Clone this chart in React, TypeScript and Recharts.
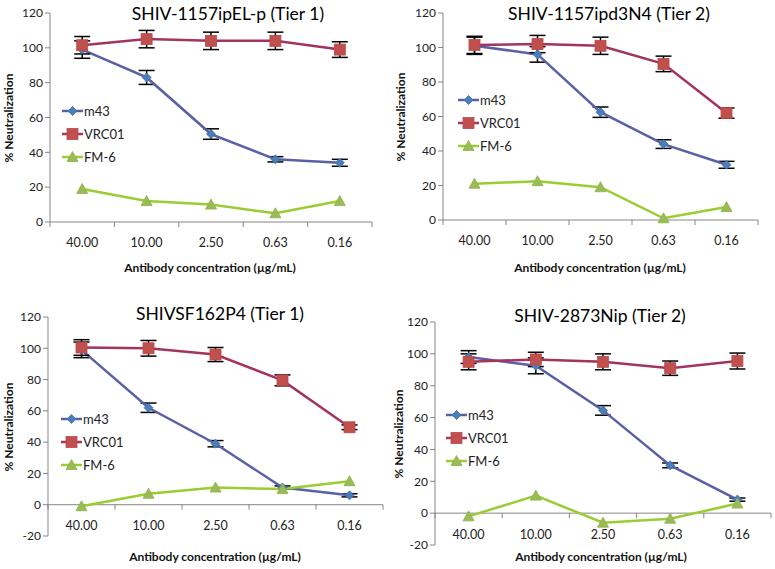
import React from "react"
import { LineChart, Line, XAxis, YAxis, ErrorBar, ReferenceLine } from "recharts"

const concentrations = ["40.00", "10.00", "2.50", "0.63", "0.16"]
const seriesNames = ["m43", "VRC01", "FM-6"]
const titles = ["SHIV-1157ipEL-p (Tier 1)", "SHIV-1157ipd3N4 (Tier 2)", "SHIVSF162P4 (Tier 1)", "SHIV-2873Nip (Tier 2)"]
const yTicksPos = [0, 20, 40, 60, 80, 100, 120]
const yTicksNeg = [-20, 0, 20, 40, 60, 80, 100, 120]

// SHIV-1157ipEL-p (Tier 1)
const elpM43 = [99, 83, 50.5, 36, 34]
const elpM43Err = [5, 4, 3, 1.5, 2]
const elpVrc01 = [101.5, 105, 104, 104, 99]
const elpVrc01Err = [5, 5, 5, 5, 4.5]
const elpFm6 = [19, 12, 10, 5, 12]

// SHIV-1157ipd3N4 (Tier 2)
const d3M43 = [101, 96, 62.5, 44, 32]
const d3M43Err = [5, 4.5, 3, 2.5, 2]
const d3Vrc01 = [101.5, 102, 101, 90.5, 62]
const d3Vrc01Err = [5, 5, 5, 4.5, 3]
const d3Fm6 = [21, 22.5, 19, 1, 7.5]

// SHIVSF162P4 (Tier 1)
const sfM43 = [99, 62, 39, 11, 6]
const sfM43Err = [5, 3, 2, 1, 1]
const sfVrc01 = [100.5, 100, 96, 79.5, 49.5]
const sfVrc01Err = [5, 5, 4.5, 3.5, 1.5]
const sfFm6 = [-1, 7, 11, 10, 15]

// SHIV-2873Nip (Tier 2)
const nipM43 = [98, 92.5, 64.5, 30, 8.5]
const nipM43Err = [4, 5, 3, 1.5, 1]
const nipVrc01 = [95, 96.5, 95, 91, 95.5]
const nipVrc01Err = [5, 4.5, 5, 4.5, 5]
const nipFm6 = [-2, 11, -6, -3.5, 6]

const build = (m43: number[], m43Err: number[], vrc: number[], vrcErr: number[], fm: number[]) =>
  concentrations.map((c, i) => ({ conc: c, m43: m43[i], m43Err: m43Err[i], vrc01: vrc[i], vrc01Err: vrcErr[i], fm6: fm[i] }))

const datasets = [
  build(elpM43, elpM43Err, elpVrc01, elpVrc01Err, elpFm6),
  build(d3M43, d3M43Err, d3Vrc01, d3Vrc01Err, d3Fm6),
  build(sfM43, sfM43Err, sfVrc01, sfVrc01Err, sfFm6),
  build(nipM43, nipM43Err, nipVrc01, nipVrc01Err, nipFm6),
]

const AXIS = "#868686"
const BLUE_LINE = "#5A60A6"
const BLUE_MARK = "#4A7EBB"
const RED_LINE = "#A3335F"
const RED_MARK = "#C0504D"
const GREEN_LINE = "#9ACD32"
const GREEN_MARK = "#9BBB59"

const panels = [
  { left: 0, top: 0, width: 390, height: 285, axisX: 50, plotTop: 13, plotBottom: 222, plotRight: 372, titleX: 228, titleY: 13, xTitleX: 210, xTitleY: 267, yTitleX: 8, legendX: 62, legendY: 111, neg: false },
  { left: 390, top: 0, width: 385, height: 285, axisX: 53, plotTop: 13, plotBottom: 220, plotRight: 368, titleX: 219, titleY: 13, xTitleX: 210, xTitleY: 267, yTitleX: 10, legendX: 68, legendY: 100, neg: false },
  { left: 0, top: 285, width: 390, height: 284, axisX: 48, plotTop: 32, plotBottom: 251, plotRight: 383, titleX: 220, titleY: 28, xTitleX: 215, xTitleY: 271, yTitleX: 8, legendX: 61, legendY: 134, neg: true },
  { left: 390, top: 285, width: 385, height: 284, axisX: 45, plotTop: 37, plotBottom: 260, plotRight: 381, titleX: 210, titleY: 30, xTitleX: 211, xTitleY: 271, yTitleX: 8, legendX: 56, legendY: 130, neg: true },
]

function Diamond({ cx, cy }: { cx: number; cy: number }) {
  return <polygon points={`${cx},${cy - 4.5} ${cx + 4.5},${cy} ${cx},${cy + 4.5} ${cx - 4.5},${cy}`} fill={BLUE_MARK} stroke="#3F6FA8" strokeWidth={0.8} />
}
function Square({ cx, cy }: { cx: number; cy: number }) {
  return <rect x={cx - 5.5} y={cy - 5.5} width={11} height={11} fill={RED_MARK} stroke="#B8484A" strokeWidth={0.8} />
}
function Triangle({ cx, cy }: { cx: number; cy: number }) {
  return <polygon points={`${cx},${cy - 5.5} ${cx + 5.5},${cy + 4.5} ${cx - 5.5},${cy + 4.5}`} fill={GREEN_MARK} stroke="#8DB046" strokeWidth={0.8} />
}

const markers = [Diamond, Square, Triangle]
const lineColors = [BLUE_LINE, RED_LINE, GREEN_LINE]

function Legend({ x, y }: { x: number; y: number }) {
  return (
    <svg style={{ position: "absolute", left: x, top: y - 10, overflow: "visible" }} width={80} height={70}>
      {seriesNames.map((name, i) => {
        const M = markers[i]
        const cy = 10 + i * 23
        return (
          <g key={name}>
            <line x1={0} x2={21} y1={cy} y2={cy} stroke={lineColors[i]} strokeWidth={2.5} />
            <M cx={10.5} cy={cy} />
            <text x={22} y={cy} dy="0.35em" fontSize={13} fill="#222">{name}</text>
          </g>
        )
      })}
    </svg>
  )
}

function Panel({ idx }: { idx: number }) {
  const p = panels[idx]
  const data = datasets[idx]
  const min = p.neg ? -20 : 0
  const max = 120
  const plotW = p.plotRight - p.axisX
  const plotH = p.plotBottom - p.plotTop
  const band = plotW / concentrations.length
  const zeroY = p.plotTop + (plotH * max) / (max - min)

  const CatTick = (props: any) => {
    const { x, index, payload } = props
    return (
      <g>
        <line x1={x - band / 2} x2={x - band / 2} y1={zeroY} y2={zeroY + 5} stroke={AXIS} />
        {index === concentrations.length - 1 && <line x1={x + band / 2} x2={x + band / 2} y1={zeroY} y2={zeroY + 5} stroke={AXIS} />}
        <text x={x} y={zeroY + 21} dy="0.35em" textAnchor="middle" fontSize={12.5} fill="#222">{payload.value}</text>
      </g>
    )
  }

  return (
    <div style={{ position: "absolute", left: p.left, top: p.top, width: p.width, height: p.height }}>
      <LineChart
        width={p.width}
        height={p.height}
        data={data}
        margin={{ top: p.plotTop, right: p.width - p.plotRight, left: p.axisX - 40, bottom: p.height - p.plotBottom - 20 }}
      >
        <XAxis dataKey="conc" height={20} axisLine={false} tickLine={false} tick={CatTick} interval={0} padding={{ left: band / 2, right: band / 2 }} />
        <YAxis
          width={40}
          type="number"
          domain={[min, max]}
          ticks={p.neg ? yTicksNeg : yTicksPos}
          interval={0}
          axisLine={{ stroke: AXIS }}
          tickLine={{ stroke: AXIS }}
          tickSize={5}
          tick={{ fontSize: 12, fill: "#222" }}
        />
        <ReferenceLine y={0} stroke={AXIS} strokeWidth={1} />
        <Line dataKey="m43" stroke={BLUE_LINE} strokeWidth={2.5} isAnimationActive={false}
          dot={(d: any) => <Diamond key={`d${d.index}`} cx={d.cx} cy={d.cy} />} activeDot={false}>
          <ErrorBar dataKey="m43Err" width={8} strokeWidth={1.5} stroke="#000" direction="y" />
        </Line>
        <Line dataKey="vrc01" stroke={RED_LINE} strokeWidth={2.5} isAnimationActive={false}
          dot={(d: any) => <Square key={`s${d.index}`} cx={d.cx} cy={d.cy} />} activeDot={false}>
          <ErrorBar dataKey="vrc01Err" width={8} strokeWidth={1.5} stroke="#000" direction="y" />
        </Line>
        <Line dataKey="fm6" stroke={GREEN_LINE} strokeWidth={2.5} isAnimationActive={false}
          dot={(d: any) => <Triangle key={`t${d.index}`} cx={d.cx} cy={d.cy} />} activeDot={false} />
      </LineChart>
      <div style={{ position: "absolute", left: p.titleX, top: p.titleY, transform: "translate(-50%, -50%)", fontSize: 17.5, whiteSpace: "nowrap", color: "#000" }}>
        {titles[idx]}
      </div>
      <div style={{ position: "absolute", left: p.xTitleX, top: p.xTitleY, transform: "translate(-50%, -50%)", fontSize: 12, fontWeight: 700, whiteSpace: "nowrap", color: "#111" }}>
        Antibody concentration (µg/mL)
      </div>
      <div style={{ position: "absolute", left: p.yTitleX, top: (p.plotTop + p.plotBottom) / 2, transform: "translate(-50%, -50%) rotate(-90deg)", fontSize: 12, fontWeight: 700, whiteSpace: "nowrap", color: "#111" }}>
        % Neutralization
      </div>
      <Legend x={p.legendX} y={p.legendY} />
    </div>
  )
}

export default function App() {
  return (
    <div style={{ position: "absolute", left: 0, top: 0, width: 775, height: 569, background: "#fff", fontFamily: "Lato, 'Open Sans', sans-serif" }}>
      {panels.map((_, i) => <Panel key={i} idx={i} />)}
    </div>
  )
}
